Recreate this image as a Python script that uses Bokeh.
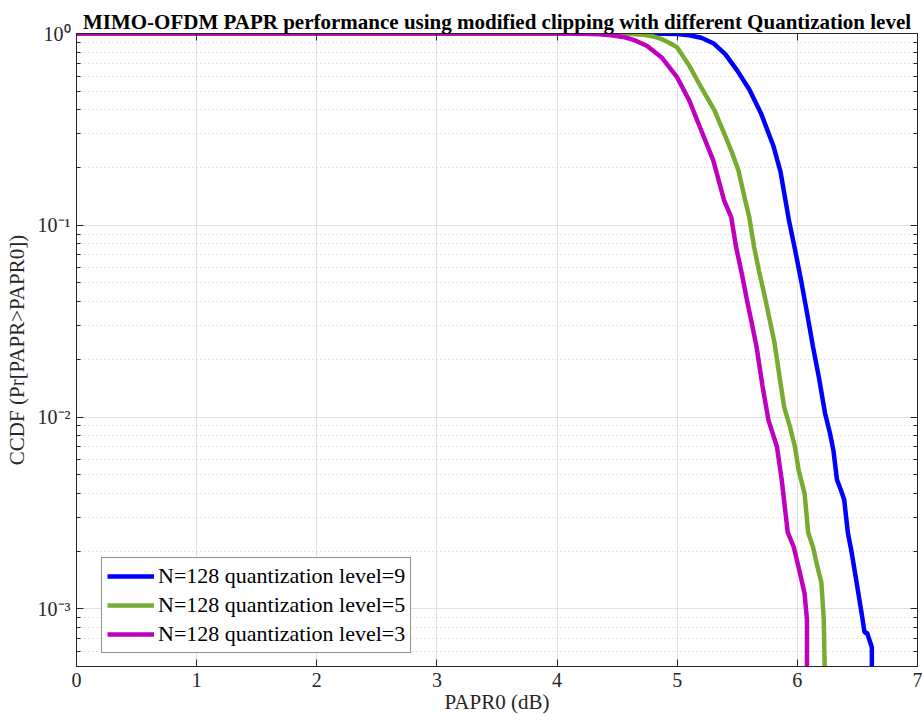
from bokeh.plotting import figure
from bokeh.models import (FixedTicker, LinearAxis, LogAxis, Legend, LegendItem,
                          Range1d, CustomJSTickFormatter)
from bokeh.embed import file_html
from bokeh.resources import INLINE

title_text = "MIMO-OFDM PAPR performance using modified clipping with different Quantization level"
x_label = "PAPR0 (dB)"
y_label = "CCDF (Pr[PAPR>PAPR0])"

x_ticks = [0, 1, 2, 3, 4, 5, 6, 7]
y_ticks = [1e-3, 1e-2, 1e-1, 1.0]
y_tick_labels = ["10\u207b\u00b3", "10\u207b\u00b2", "10\u207b\u00b9", "10\u2070"]
y_minor = [5e-4, 6e-4, 7e-4, 8e-4, 9e-4,
           2e-3, 3e-3, 4e-3, 5e-3, 6e-3, 7e-3, 8e-3, 9e-3,
           2e-2, 3e-2, 4e-2, 5e-2, 6e-2, 7e-2, 8e-2, 9e-2,
           0.2, 0.3, 0.4, 0.5, 0.6, 0.7, 0.8, 0.9]

labels = ["N=128 quantization level=9", "N=128 quantization level=5", "N=128 quantization level=3"]
colors = ["#0000FF", "#77AC30", "#BF00BF"]

q9_x = [0, 4.7, 4.9, 5.0, 5.1, 5.2, 5.3, 5.4, 5.5, 5.6, 5.7, 5.8, 5.86, 5.93, 5.98, 6.03,
        6.08, 6.13, 6.18, 6.23, 6.27, 6.30, 6.33, 6.36, 6.39, 6.42, 6.45, 6.49, 6.53, 6.56,
        6.58, 6.62, 6.62]
q9_y = [1.0, 1.0, 0.998, 0.993, 0.98, 0.95, 0.89, 0.78, 0.64, 0.51, 0.38, 0.26, 0.19, 0.106,
        0.075, 0.052, 0.035, 0.0233, 0.016, 0.0105, 0.0083, 0.0067, 0.0047, 0.0042, 0.0037,
        0.0025, 0.0020, 0.00141, 0.00099, 0.00075, 0.00075, 0.00063, 0.0004]

q5_x = [0, 4.3, 4.5, 4.62, 4.72, 4.8, 4.87, 4.94, 5.0, 5.1, 5.2, 5.31, 5.39, 5.45, 5.51,
        5.56, 5.6, 5.64, 5.68, 5.73, 5.77, 5.81, 5.85, 5.89, 5.94, 5.98, 6.01, 6.06, 6.09,
        6.13, 6.16, 6.2, 6.22, 6.23]
q5_y = [1.0, 1.0, 0.998, 0.993, 0.985, 0.965, 0.935, 0.89, 0.846, 0.68, 0.523, 0.397, 0.302,
        0.245, 0.193, 0.14, 0.110, 0.0769, 0.058, 0.0422, 0.032, 0.0244, 0.0165, 0.0113,
        0.0088, 0.0070, 0.0053, 0.0040, 0.0025, 0.0021, 0.00173, 0.00137, 0.00088, 0.0004]

q3_x = [0, 4.0, 4.2, 4.35, 4.45, 4.55, 4.65, 4.75, 4.87, 5.0, 5.1, 5.2, 5.3, 5.39, 5.45,
        5.49, 5.54, 5.58, 5.62, 5.66, 5.71, 5.76, 5.83, 5.87, 5.92, 5.97, 6.02, 6.06, 6.08,
        6.08]
q3_y = [1.0, 1.0, 0.998, 0.99, 0.98, 0.96, 0.92, 0.86, 0.75, 0.59, 0.448, 0.312, 0.218,
        0.135, 0.110, 0.077, 0.055, 0.0408, 0.031, 0.0233, 0.0145, 0.0096, 0.0070, 0.0047,
        0.0025, 0.0021, 0.00155, 0.0012, 0.00088, 0.0004]

FONT = "Liberation Serif"
AX = "#262626"

p = figure(width=922, height=723, y_axis_type="log",
           x_range=Range1d(0, 7), y_range=Range1d(5e-4, 1.0),
           output_backend="svg", toolbar_location=None,
           min_border_left=76, min_border_right=5, min_border_top=33, min_border_bottom=57)

p.title.text = title_text
p.title.text_font = FONT
p.title.text_font_size = "21px"
p.title.text_font_style = "bold"
p.title.text_color = "#000000"
p.title.align = "center"
p.title.standoff = 0

p.outline_line_color = AX
p.outline_line_width = 1
p.background_fill_color = "white"
p.border_fill_color = "white"

yticker = FixedTicker(ticks=y_ticks, minor_ticks=y_minor)
xticker = FixedTicker(ticks=x_ticks)
yfmt = CustomJSTickFormatter(args=dict(tvals=y_ticks, tlabels=y_tick_labels), code="""
const i = tvals.findIndex(t => Math.abs(Math.log10(t) - Math.log10(tick)) < 1e-6);
return i >= 0 ? tlabels[i] : '';
""")

for ax in p.xaxis:
    ax.ticker = xticker
    ax.axis_label = x_label
for ax in p.yaxis:
    ax.ticker = yticker
    ax.formatter = yfmt
    ax.axis_label = y_label

for ax in list(p.xaxis) + list(p.yaxis):
    ax.axis_line_color = AX
    ax.major_tick_line_color = AX
    ax.minor_tick_line_color = AX
    ax.major_tick_in = 7
    ax.major_tick_out = 0
    ax.minor_tick_in = 4
    ax.minor_tick_out = 0
    ax.major_label_text_font = FONT
    ax.major_label_text_font_size = "20px"
    ax.major_label_text_color = AX
    ax.axis_label_text_font = FONT
    ax.axis_label_text_font_size = "21px"
    ax.axis_label_text_font_style = "normal"
    ax.axis_label_text_color = AX

p.xaxis.major_label_standoff = 6
p.xaxis.axis_label_standoff = 0
p.yaxis.major_label_standoff = 6
p.yaxis.axis_label_standoff = 6

top = LinearAxis(ticker=xticker, major_tick_in=7, major_tick_out=0,
                 major_label_text_font_size="2px", major_label_text_alpha=0,
                 major_label_standoff=0,
                 axis_line_color=AX, major_tick_line_color=AX)
right = LogAxis(ticker=yticker, major_tick_in=7, major_tick_out=0,
                minor_tick_in=4, minor_tick_out=0,
                major_label_text_font_size="2px", major_label_text_alpha=0,
                major_label_standoff=0,
                axis_line_color=AX, major_tick_line_color=AX, minor_tick_line_color=AX)
p.add_layout(top, "above")
p.add_layout(right, "right")

p.xgrid.grid_line_color = "#e2e2e2"
p.ygrid.grid_line_color = "#e2e2e2"
p.ygrid.minor_grid_line_color = "#c8c8c8"
p.ygrid.minor_grid_line_dash = "1 3"

r9 = p.line(q9_x, q9_y, line_color=colors[0], line_width=4.5)
r5 = p.line(q5_x, q5_y, line_color=colors[1], line_width=4.5)
r3 = p.line(q3_x, q3_y, line_color=colors[2], line_width=4.5)

legend = Legend(items=[LegendItem(label=labels[0], renderers=[r9]),
                       LegendItem(label=labels[1], renderers=[r5]),
                       LegendItem(label=labels[2], renderers=[r3])],
                location=(25, 13), label_text_font=FONT, label_text_font_size="22px",
                label_text_color="#000000", glyph_width=47, glyph_height=22,
                label_standoff=4, label_height=26, padding=5, spacing=3, margin=0,
                border_line_color=AX, border_line_width=1, background_fill_alpha=1)
p.add_layout(legend)

open("out.html", "w").write(file_html(p, INLINE))
